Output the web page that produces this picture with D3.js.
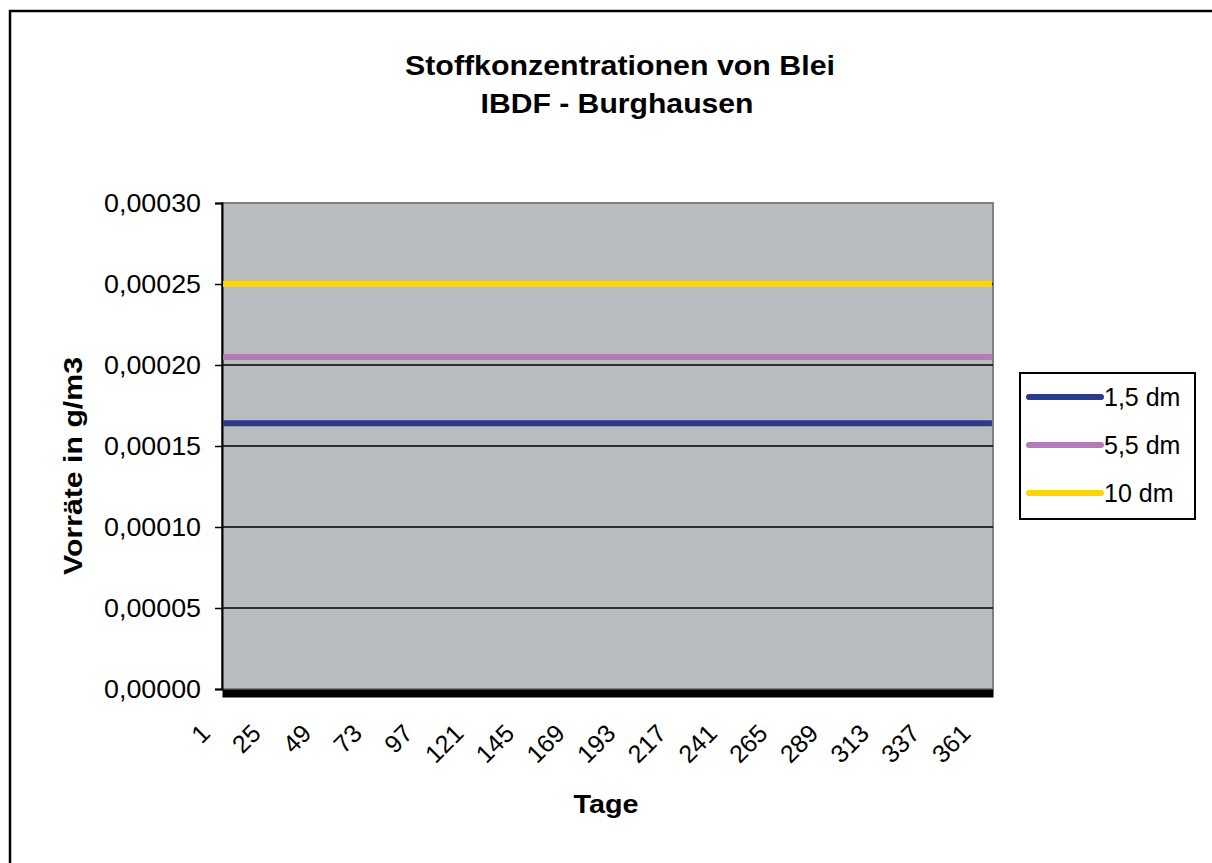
<!DOCTYPE html>
<html>
<head>
<meta charset="utf-8">
<script src="https://cdn.jsdelivr.net/npm/d3@7"></script>
<style>
  html, body { margin: 0; padding: 0; background: #ffffff; }
  svg { display: block; font-family: "Liberation Sans", Arial, sans-serif; }
</style>
</head>
<body>
<svg id="chart" width="1212" height="863"></svg>
<script>
// ---- data ----
const days = [1, 25, 49, 73, 97, 121, 145, 169, 193, 217, 241, 265, 289, 313, 337, 361, 365];
const tickLabels = ["1", "25", "49", "73", "97", "121", "145", "169", "193", "217", "241", "265", "289", "313", "337", "361"];
const seriesNames = ["1,5 dm", "5,5 dm", "10 dm"];
const values15 = [0.000164, 0.000164, 0.000164, 0.000164, 0.000164, 0.000164, 0.000164, 0.000164, 0.000164, 0.000164, 0.000164, 0.000164, 0.000164, 0.000164, 0.000164, 0.000164, 0.000164];
const values55 = [0.000205, 0.000205, 0.000205, 0.000205, 0.000205, 0.000205, 0.000205, 0.000205, 0.000205, 0.000205, 0.000205, 0.000205, 0.000205, 0.000205, 0.000205, 0.000205, 0.000205];
const values10 = [0.00025, 0.00025, 0.00025, 0.00025, 0.00025, 0.00025, 0.00025, 0.00025, 0.00025, 0.00025, 0.00025, 0.00025, 0.00025, 0.00025, 0.00025, 0.00025, 0.00025];
const yTicks = [0, 0.00005, 0.0001, 0.00015, 0.0002, 0.00025, 0.0003];
const colors = ["#2a3a8c", "#b27cb8", "#ffd400"];

const series = [values15, values55, values10].map((vals, i) => ({
  name: seriesNames[i],
  color: colors[i],
  points: days.map((d, j) => ({ day: d, value: vals[j] }))
}));

// ---- layout ----
const svg = d3.select("#chart");
const plot = { left: 222, right: 993, top: 203, bottom: 689 };

const x = d3.scaleLinear().domain([0.5, 365.5]).range([plot.left, plot.right]);
const y = d3.scaleLinear().domain([0, 0.0003]).range([plot.bottom, plot.top]);

// outer chart border
svg.append("rect")
  .attr("x", 10).attr("y", 11).attr("width", 1230).attr("height", 880)
  .attr("fill", "#ffffff").attr("stroke", "#000").attr("stroke-width", 2.5);

// title
const title = svg.append("g").attr("font-weight", "bold").attr("font-size", 27).attr("fill", "#000");
title.append("text").attr("x", 620).attr("y", 75).attr("text-anchor", "middle")
  .attr("textLength", 430).attr("lengthAdjust", "spacingAndGlyphs")
  .text("Stoffkonzentrationen von Blei");
title.append("text").attr("x", 617).attr("y", 113).attr("text-anchor", "middle")
  .attr("textLength", 273).attr("lengthAdjust", "spacingAndGlyphs")
  .text("IBDF - Burghausen");

// plot background
svg.append("rect")
  .attr("x", plot.left).attr("y", plot.top)
  .attr("width", plot.right - plot.left).attr("height", plot.bottom - plot.top)
  .attr("fill", "#b8bcbf").attr("stroke", "#808080").attr("stroke-width", 2);

// gridlines
svg.append("g").selectAll("line")
  .data(yTicks.filter(t => t > 0 && t < 0.0003))
  .join("line")
  .attr("x1", plot.left).attr("x2", plot.right)
  .attr("y1", d => y(d)).attr("y2", d => y(d))
  .attr("stroke", "#000").attr("stroke-width", 1.5);

// y axis
const yAxis = d3.axisLeft(y)
  .tickValues(yTicks)
  .tickSize(7)
  .tickPadding(14)
  .tickFormat(d => d3.format(".5f")(d).replace(".", ","));
const gy = svg.append("g").attr("transform", `translate(${plot.left},0)`).call(yAxis);
gy.select(".domain").attr("stroke", "#000").attr("stroke-width", 2);
gy.selectAll(".tick line").attr("stroke", "#000").attr("stroke-width", 1.5);
gy.selectAll(".tick text")
  .attr("font-size", 25).attr("fill", "#000")
  .attr("font-family", "'Liberation Sans', Arial, sans-serif")
  .attr("textLength", 97).attr("lengthAdjust", "spacingAndGlyphs");

// series lines
const line = d3.line().x(d => x(d.day)).y(d => y(d.value));
svg.append("g").selectAll("path")
  .data(series)
  .join("path")
  .attr("d", d => line(d.points))
  .attr("fill", "none")
  .attr("stroke", d => d.color)
  .attr("stroke-width", 6);

// x axis (heavy base line)
const xAxis = d3.axisBottom(x)
  .tickValues(days.slice(0, tickLabels.length))
  .tickSize(0)
  .tickFormat((d, i) => tickLabels[i]);
const gx = svg.append("g").attr("transform", `translate(0,${plot.bottom + 4})`).call(xAxis);
gx.select(".domain").attr("stroke", "#000").attr("stroke-width", 8);
gx.selectAll(".tick text")
  .attr("font-size", 25).attr("fill", "#000")
  .attr("font-family", "'Liberation Sans', Arial, sans-serif")
  .attr("text-anchor", "end")
  .attr("y", 0).attr("dy", 0)
  .attr("transform", "translate(-12,42) rotate(-45)");

// axis titles
svg.append("text")
  .attr("x", 606).attr("y", 813).attr("text-anchor", "middle")
  .attr("font-weight", "bold").attr("font-size", 26)
  .attr("textLength", 65).attr("lengthAdjust", "spacingAndGlyphs")
  .text("Tage");
svg.append("text")
  .attr("transform", "translate(82,466) rotate(-90)")
  .attr("text-anchor", "middle")
  .attr("font-weight", "bold").attr("font-size", 26)
  .attr("textLength", 218).attr("lengthAdjust", "spacingAndGlyphs")
  .text("Vorräte in g/m3");

// legend
const legend = svg.append("g");
legend.append("rect")
  .attr("x", 1020).attr("y", 373).attr("width", 175).attr("height", 146)
  .attr("fill", "#ffffff").attr("stroke", "#000").attr("stroke-width", 2);
const items = legend.selectAll("g.item")
  .data(series)
  .join("g").attr("class", "item")
  .attr("transform", (d, i) => `translate(0,${397 + i * 48})`);
items.append("line")
  .attr("x1", 1029).attr("x2", 1101).attr("y1", 0).attr("y2", 0)
  .attr("stroke", d => d.color).attr("stroke-width", 6).attr("stroke-linecap", "round");
items.append("text")
  .attr("x", 1104).attr("y", 0).attr("dy", "0.35em")
  .attr("font-size", 25).attr("fill", "#000")
  .text(d => d.name);
</script>
</body>
</html>
